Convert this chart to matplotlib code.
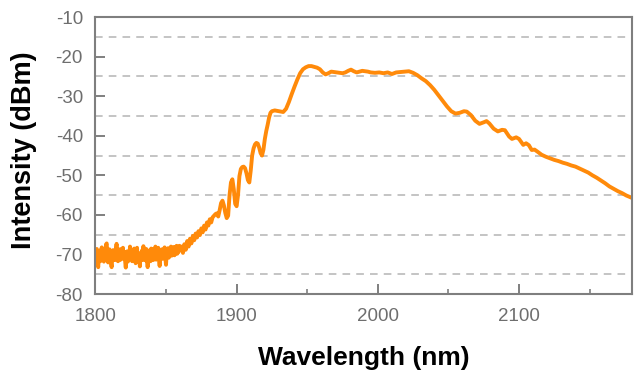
import numpy as np
import matplotlib
matplotlib.use("Agg")
import matplotlib.pyplot as plt
from matplotlib.ticker import MultipleLocator

plt.rcParams['font.family'] = ['Liberation Sans', 'DejaVu Sans']
plt.rcParams['axes.unicode_minus'] = False

# Noisy floor, read at 0.5 nm steps from 1800 to 1860 nm
floor_wl = np.arange(1800, 1860.5, 0.5)
floor_dbm = [
    -72.5, -70.3, -68.6, -72.1, -73.2, -70.0, -69.0, -71.7, -70.7, -68.2,
    -71.3, -69.2, -71.8, -68.6, -70.3, -67.5, -67.2, -70.1, -72.0, -69.4,
    -68.7, -71.1, -72.2, -73.2, -70.4, -68.9, -71.3, -69.4, -71.4, -68.5,
    -67.3, -69.7, -71.7, -70.0, -68.7, -71.4, -70.6, -68.6, -71.1, -68.3,
    -70.8, -69.3, -71.5, -73.3, -70.3, -69.2, -71.8, -69.9, -70.8, -68.0,
    -69.0, -71.3, -71.7, -68.9, -70.7, -68.5, -70.4, -72.2, -69.3, -68.3,
    -71.8, -69.9, -70.8, -73.0, -69.6, -71.1, -69.0, -71.4, -67.9, -70.3,
    -69.4, -71.5, -68.6, -71.0, -73.2, -69.7, -70.8, -68.9, -71.7, -68.5,
    -70.6, -68.7, -71.4, -69.4, -70.4, -68.0, -71.3, -69.3, -70.6, -68.3,
    -71.0, -72.9, -69.7, -70.7, -68.7, -71.1, -69.0, -70.3, -68.2, -70.7,
    -72.6, -69.6, -70.4, -68.4, -70.8, -69.0, -70.0, -68.0, -70.3, -68.6,
    -69.8, -68.1, -70.2, -68.4, -69.7, -67.8, -69.8, -68.1, -69.3, -67.8,
    -68.5,
]

# Rising edge and supercontinuum
spec_wl = [
    1861, 1862, 1863, 1864, 1865, 1866, 1867, 1868, 1869, 1870,
    1871, 1872, 1873, 1874, 1875, 1876, 1877, 1878, 1879, 1880,
    1881, 1882, 1883, 1884, 1885, 1886, 1887, 1888, 1889, 1890,
    1891, 1892, 1893, 1894, 1895, 1896, 1897, 1898, 1899, 1900,
    1901, 1902, 1903, 1904, 1905, 1906, 1907, 1908, 1909, 1910,
    1911, 1912, 1913, 1914, 1915, 1916, 1917, 1918, 1919, 1920,
    1921, 1922, 1923, 1924, 1925, 1927, 1930, 1933, 1935, 1937,
    1939, 1941, 1943, 1945, 1947, 1949, 1951, 1953, 1955, 1957,
    1959, 1961, 1963, 1965, 1967, 1969, 1971, 1973, 1975, 1977,
    1979, 1981, 1983, 1985, 1987, 1989, 1991, 1993, 1995, 1998,
    2001, 2004, 2007, 2010, 2013, 2016, 2019, 2022, 2025, 2028,
    2031, 2034, 2037, 2040, 2043, 2046, 2049, 2052, 2055, 2058,
    2061, 2063, 2066, 2069, 2072, 2075, 2077, 2079, 2082, 2085,
    2088, 2090, 2093, 2095, 2098, 2100, 2103, 2105, 2107, 2109,
    2111, 2113, 2116, 2119, 2122, 2125, 2128, 2131, 2134, 2137,
    2140, 2143, 2146, 2149, 2152, 2155, 2158, 2161, 2164, 2167,
    2170, 2173, 2176, 2180,
]
spec_dbm = [
    -68.0, -69.6, -67.4, -68.8, -66.6, -68.0, -66.0, -67.2, -65.3, -66.4,
    -64.7, -65.7, -64.1, -65.1, -63.4, -64.4, -62.7, -63.7, -61.9, -62.7,
    -61.1, -61.9, -60.6, -60.2, -59.8, -59.6, -60.4, -58.8, -57.0, -56.4,
    -57.6, -59.5, -60.8, -60.2, -55.0, -51.8, -51.0, -53.5, -57.2, -57.8,
    -55.0, -50.2, -48.4, -47.9, -47.8, -48.2, -49.5, -51.2, -51.8, -48.8,
    -45.0, -43.2, -42.2, -41.8, -42.0, -43.0, -44.4, -45.0, -43.5, -40.8,
    -38.8, -37.2, -35.4, -34.2, -33.8, -33.6, -33.8, -34.0, -33.2, -31.5,
    -29.5, -27.6, -25.8, -24.2, -23.2, -22.7, -22.4, -22.4, -22.6, -22.8,
    -23.2, -24.0, -24.5, -24.2, -23.8, -23.9, -24.0, -24.1, -24.2, -24.0,
    -23.6, -23.3, -23.7, -24.0, -23.8, -23.6, -23.7, -23.8, -24.0, -24.1,
    -24.0, -24.2, -24.0, -24.4, -24.0, -23.9, -23.8, -23.7, -24.1, -24.7,
    -25.5, -26.2, -27.2, -28.4, -29.8, -31.2, -32.6, -33.8, -34.4, -34.2,
    -33.8, -33.9, -34.8, -36.2, -37.0, -36.6, -36.3, -36.9, -38.2, -38.9,
    -38.5, -38.6, -40.2, -40.8, -40.4, -40.8, -42.3, -41.9, -42.4, -43.6,
    -43.5, -44.0, -44.8, -45.3, -45.7, -46.1, -46.4, -46.8, -47.1, -47.5,
    -47.8, -48.3, -48.8, -49.3, -50.0, -50.6, -51.3, -52.0, -52.8, -53.4,
    -54.0, -54.5, -55.1, -55.7,
]

wavelength = list(floor_wl) + spec_wl
intensity = floor_dbm + spec_dbm

fig = plt.figure(figsize=(6.42, 3.78), dpi=100)
ax = fig.add_axes([0.1486, 0.222, 0.8358, 0.733])

# dashed grid at the half-decade levels
ax.yaxis.set_minor_locator(MultipleLocator(5))
ax.grid(which='minor', axis='y', color='#b4b4b4', linestyle=(0, (5, 4)), linewidth=1.1)
ax.set_axisbelow(True)

ax.plot(wavelength, intensity, color='#ff8a0a', linewidth=2.8, solid_joinstyle='round')

ax.set_xlim(1800, 2180)
ax.set_ylim(-80, -10)
ax.xaxis.set_major_locator(MultipleLocator(100))
ax.xaxis.set_minor_locator(MultipleLocator(50))
ax.yaxis.set_major_locator(MultipleLocator(10))

for s in ax.spines.values():
    s.set_color('#7f7f7f')
    s.set_linewidth(1.5)

ax.tick_params(which='major', direction='in', length=7, width=1.4, color='#7f7f7f',
               labelsize=13.5, labelcolor='#6e6e6e')
ax.tick_params(axis='x', which='major', pad=10)
ax.tick_params(axis='y', which='major', pad=9)
ax.tick_params(which='minor', axis='x', direction='in', length=3.5, width=1.2, color='#7f7f7f')
ax.tick_params(which='minor', axis='y', length=0)

ax.set_xlabel('Wavelength (nm)', fontsize=19, fontweight='bold', va='baseline')
ax.xaxis.set_label_coords(0.5, -0.255)
ax.set_ylabel('Intensity (dBm)', fontsize=19.5, fontweight='bold', va='center')
ax.yaxis.set_label_coords(-0.133, 0.52)

fig.savefig('out.png', dpi=100)
